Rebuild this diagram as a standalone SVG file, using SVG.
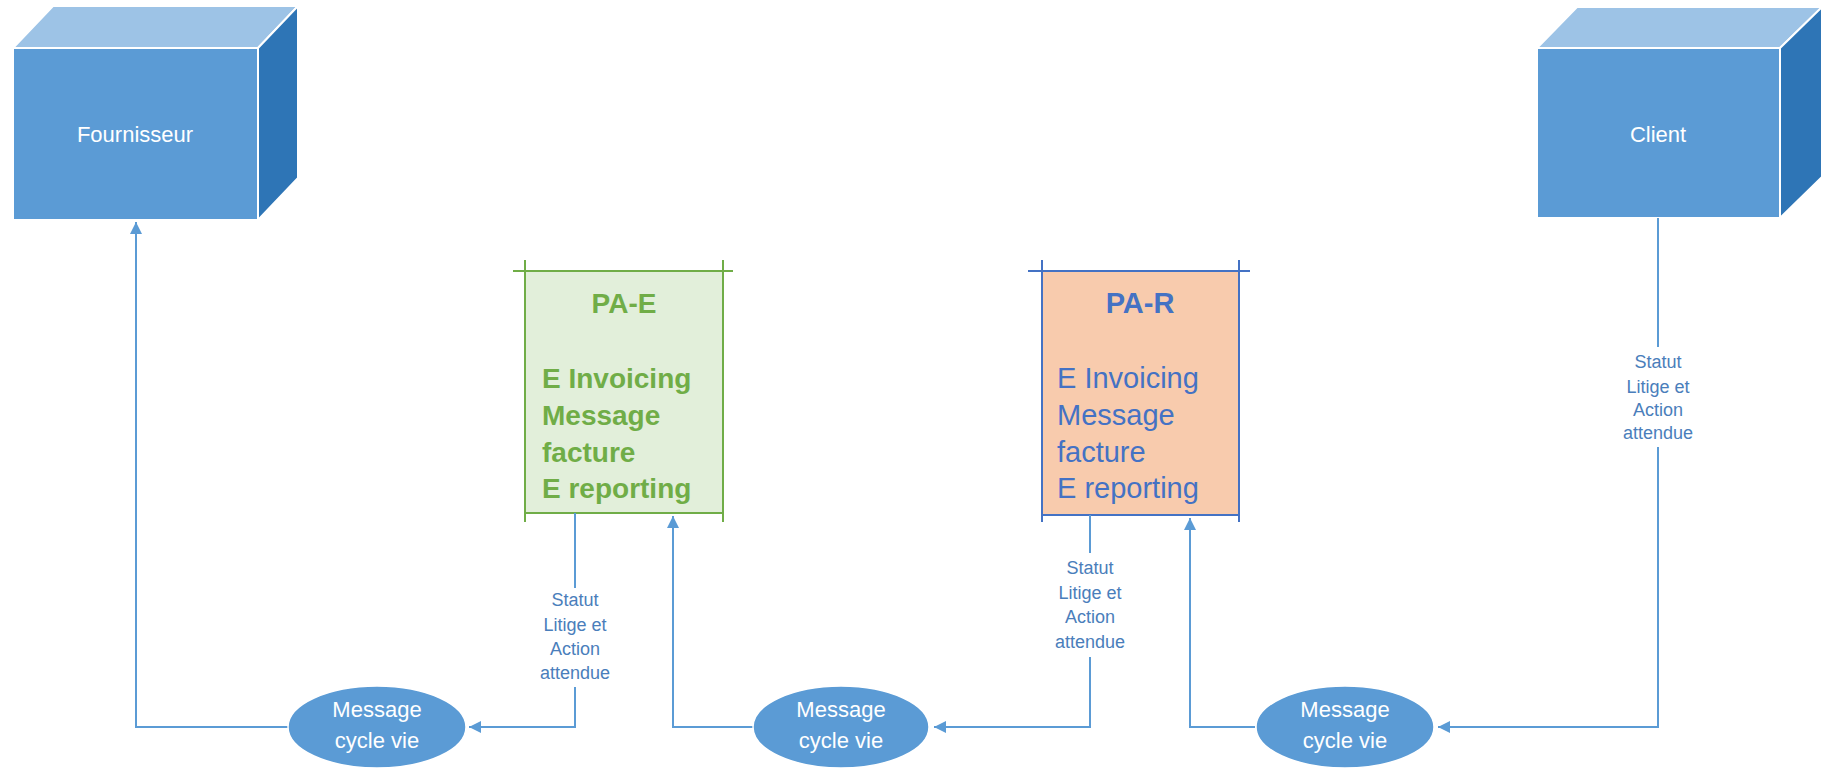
<svg xmlns="http://www.w3.org/2000/svg" width="1825" height="769" viewBox="0 0 1825 769">
<style>
.front{fill:#5B9BD5;stroke:#fff;stroke-width:2}
.top{fill:#9DC3E6;stroke:#fff;stroke-width:2}
.side{fill:#2E75B6;stroke:#fff;stroke-width:2}
.boxlbl{font-family:"Liberation Sans",Arial,sans-serif;font-size:22px;fill:#fff;text-anchor:middle}
.ell{fill:#5B9BD5;stroke:#fff;stroke-width:1.5}
.elltxt{font-family:"Liberation Sans",Arial,sans-serif;font-size:22px;fill:#fff;text-anchor:middle}
.conn{fill:none;stroke:#5B9BD5;stroke-width:2}
.lbl{font-family:"Liberation Sans",Arial,sans-serif;font-size:18px;fill:#4A7EBB;text-anchor:middle}
.pae{fill:#E2EFDA;stroke:none}
.paeline{stroke:#70AD47;stroke-width:2}
.paetxt{font-family:"Liberation Sans",Arial,sans-serif;font-size:28px;font-weight:bold;fill:#70AD47}
.par{fill:#F8CBAD;stroke:none}
.parline{stroke:#4472C4;stroke-width:2}
.partxt{font-family:"Liberation Sans",Arial,sans-serif;font-size:29px;fill:#4472C4}
</style>
<defs>
<marker id="arr" viewBox="0 0 10 10" refX="10" refY="5" markerWidth="6" markerHeight="6" orient="auto" markerUnits="strokeWidth">
<path d="M0,0 L10,5 L0,10 z" fill="#5B9BD5"/>
</marker>
</defs>

<g id="fournisseur">
<polygon class="top" points="13,48 53,6 298,6 258,48"/>
<polygon class="side" points="258,48 298,6 298,178 258,220"/>
<rect class="front" x="13" y="48" width="245" height="172"/>
<text class="boxlbl" x="135" y="142">Fournisseur</text>
</g>

<g id="client">
<polygon class="top" points="1537,48 1577,7 1822,7 1780,48"/>
<polygon class="side" points="1780,48 1822,7 1822,177 1780,218"/>
<rect class="front" x="1537" y="48" width="243" height="170"/>
<text class="boxlbl" x="1658" y="142">Client</text>
</g>

<g id="pa-e">
<rect class="pae" x="525" y="271" width="198" height="242"/>
<line class="paeline" x1="513" y1="271" x2="733" y2="271"/>
<line class="paeline" x1="525" y1="260" x2="525" y2="522"/>
<line class="paeline" x1="723" y1="260" x2="723" y2="522"/>
<line class="paeline" x1="525" y1="513" x2="723" y2="513"/>
<text class="paetxt" x="624" y="313" text-anchor="middle" font-size="30">PA-E</text>
<text class="paetxt" x="542" y="388">E Invoicing</text>
<text class="paetxt" x="542" y="425">Message</text>
<text class="paetxt" x="542" y="462">facture</text>
<text class="paetxt" x="542" y="498">E reporting</text>
</g>

<g id="pa-r">
<rect class="par" x="1042" y="271" width="197" height="244"/>
<line class="parline" x1="1028" y1="271" x2="1250" y2="271"/>
<line class="parline" x1="1042" y1="260" x2="1042" y2="522"/>
<line class="parline" x1="1239" y1="260" x2="1239" y2="522"/>
<line class="parline" x1="1042" y1="515" x2="1239" y2="515"/>
<text class="partxt" x="1140" y="313" text-anchor="middle" font-weight="bold" font-size="30">PA-R</text>
<text class="partxt" x="1057" y="388">E Invoicing</text>
<text class="partxt" x="1057" y="425">Message</text>
<text class="partxt" x="1057" y="462">facture</text>
<text class="partxt" x="1057" y="498">E reporting</text>
</g>

<g id="connectors">
<path class="conn" d="M289,727 H136 V222" marker-end="url(#arr)"/>
<path class="conn" d="M575,513 V588 M575,687 V727 H469" marker-end="url(#arr)"/>
<path class="conn" d="M753,727 H673 V516" marker-end="url(#arr)"/>
<path class="conn" d="M1090,515 V553 M1090,657 V727 H934" marker-end="url(#arr)"/>
<path class="conn" d="M1255,727 H1190 V518" marker-end="url(#arr)"/>
<path class="conn" d="M1658,218 V347 M1658,447 V727 H1438" marker-end="url(#arr)"/>
<text class="lbl" x="575" y="606">Statut</text>
<text class="lbl" x="575" y="631">Litige et</text>
<text class="lbl" x="575" y="655">Action</text>
<text class="lbl" x="575" y="679">attendue</text>
<text class="lbl" x="1090" y="574">Statut</text>
<text class="lbl" x="1090" y="599">Litige et</text>
<text class="lbl" x="1090" y="623">Action</text>
<text class="lbl" x="1090" y="648">attendue</text>
<text class="lbl" x="1658" y="368">Statut</text>
<text class="lbl" x="1658" y="393">Litige et</text>
<text class="lbl" x="1658" y="416">Action</text>
<text class="lbl" x="1658" y="439">attendue</text>
</g>

<g id="msg1">
<ellipse class="ell" cx="377" cy="727" rx="89" ry="41"/>
<text class="elltxt" x="377" y="717">Message</text>
<text class="elltxt" x="377" y="748">cycle vie</text>
</g>
<g id="msg2">
<ellipse class="ell" cx="841" cy="727" rx="88" ry="41"/>
<text class="elltxt" x="841" y="717">Message</text>
<text class="elltxt" x="841" y="748">cycle vie</text>
</g>
<g id="msg3">
<ellipse class="ell" cx="1345" cy="727" rx="89" ry="41"/>
<text class="elltxt" x="1345" y="717">Message</text>
<text class="elltxt" x="1345" y="748">cycle vie</text>
</g>
</svg>
